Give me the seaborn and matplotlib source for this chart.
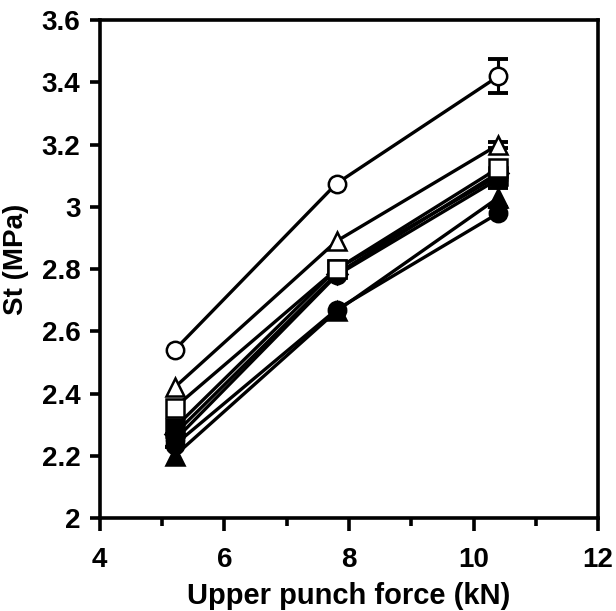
import numpy as np
import pandas as pd
import matplotlib
matplotlib.use("Agg")
import matplotlib.pyplot as plt
from matplotlib.ticker import MultipleLocator, FuncFormatter
import seaborn as sns

# --- data ---
force = [5.2, 7.8, 10.4]
series_names = ["A", "B", "C", "D", "E", "F", "G", "H"]
st_values = {
    "A": [2.54, 3.075, 3.42],
    "B": [2.42, 2.89, 3.20],
    "C": [2.355, 2.80, 3.125],
    "D": [2.29, 2.80, 3.10],
    "E": [2.27, 2.785, 3.11],
    "F": [2.25, 2.78, 3.09],
    "G": [2.235, 2.67, 2.98],
    "H": [2.20, 2.665, 3.03],
}
st_errors = {
    "A": [0.0, 0.0, 0.055],
    "B": [0.0, 0.0, 0.01],
    "C": [0.0, 0.0, 0.0],
    "D": [0.0, 0.0, 0.0],
    "E": [0.0, 0.0, 0.0],
    "F": [0.02, 0.0, 0.0],
    "G": [0.0, 0.0, 0.0],
    "H": [0.0, 0.0, 0.03],
}
markers = {"A": "o", "B": "^", "C": "s", "D": "s", "E": "D", "F": "o", "G": "o", "H": "^"}
filled = {"A": False, "B": False, "C": False, "D": True, "E": True, "F": True, "G": True, "H": True}

rows = []
for name in series_names:
    for f, v, e in zip(force, st_values[name], st_errors[name]):
        rows.append({"series": name, "force": f, "st": v, "err": e})
df = pd.DataFrame(rows)

sns.set_theme(style="white")
plt.rcParams["font.family"] = ["Liberation Sans", "DejaVu Sans"]
plt.rcParams["font.weight"] = "bold"

fig = plt.figure(figsize=(6.16, 6.11), dpi=100)
ax = fig.add_axes([0.162, 0.152, 0.809, 0.815])

# draw filled series first, open ones on top
order = [n for n in series_names if filled[n]] + [n for n in series_names if not filled[n]]
for i, name in enumerate(order):
    sub = df[df["series"] == name]
    sub_err = sub[sub["err"] > 0]
    if len(sub_err):
        ax.errorbar(sub_err["force"], sub_err["st"], yerr=sub_err["err"], fmt="none",
                    ecolor="black", elinewidth=2.2, capsize=7, capthick=2.8, zorder=2 + i)
    sns.lineplot(data=sub, x="force", y="st", ax=ax, color="black", lw=2.4,
                 marker=markers[name], markersize=12.5 if markers[name] != "D" else 10,
                 markerfacecolor="black" if filled[name] else "white",
                 markeredgecolor="black", markeredgewidth=1.8,
                 errorbar=None, legend=False, zorder=3 + i)

ax.set_xlim(4, 12)
ax.set_ylim(2, 3.6)
ax.xaxis.set_major_locator(MultipleLocator(2))
ax.xaxis.set_minor_locator(MultipleLocator(1))
ax.yaxis.set_major_locator(MultipleLocator(0.2))
ax.yaxis.set_major_formatter(FuncFormatter(lambda v, p: f"{v:g}"))

for sp in ax.spines.values():
    sp.set_color("black")
    sp.set_linewidth(2.6)

ax.tick_params(axis="both", which="major", direction="out", length=7, width=2.6,
               labelsize=20, color="black", labelcolor="black", pad=7)
ax.tick_params(axis="x", which="major", length=9, pad=12)
ax.tick_params(axis="x", which="minor", direction="out", length=6, width=2.6,
               bottom=True, color="black")
ax.tick_params(left=True, bottom=True)

ax.set_xlabel("Upper punch force (kN)", fontsize=21, fontweight="bold", color="black", labelpad=6)
ax.set_ylabel("St (MPa)", fontsize=20, fontweight="bold", color="black")
ax.yaxis.set_label_coords(-0.142, 0.52)

fig.savefig("out.png", dpi=100, facecolor="white")
